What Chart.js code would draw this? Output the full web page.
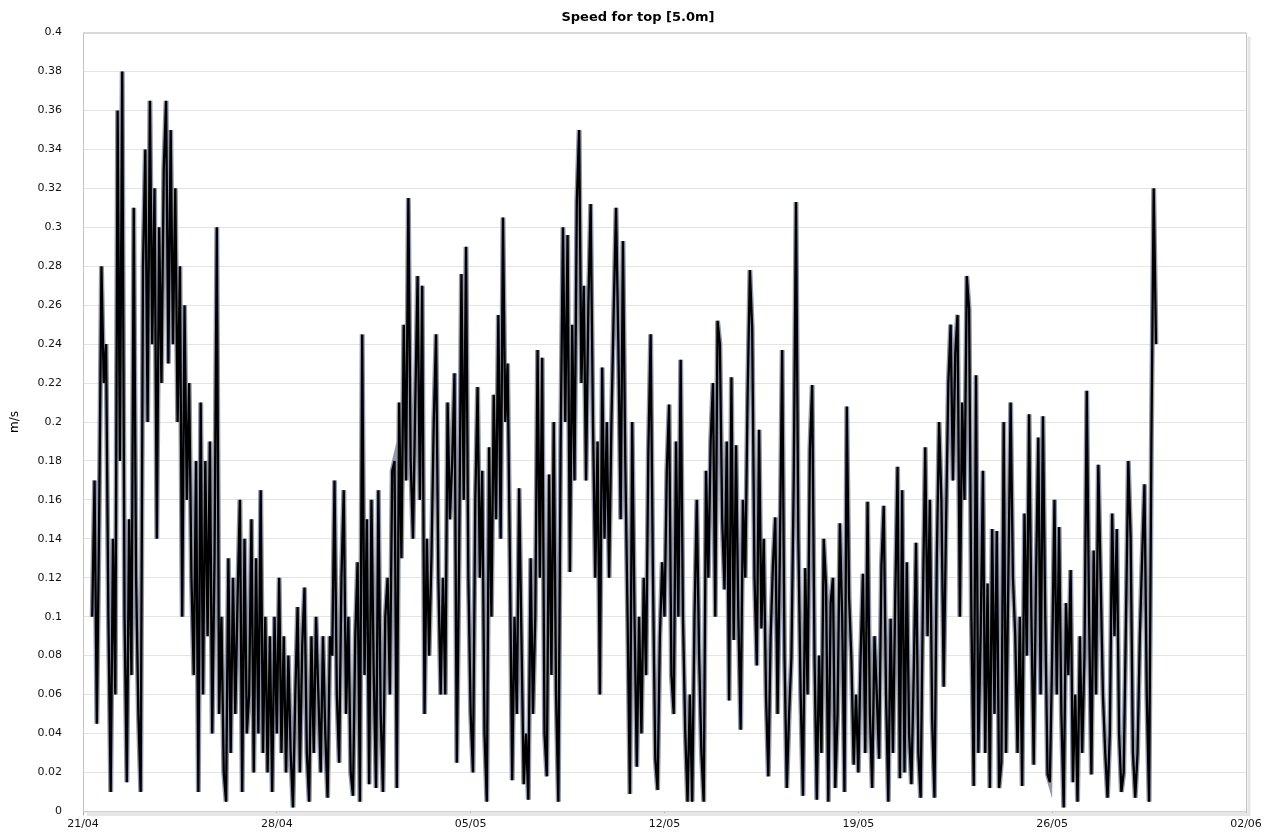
<!DOCTYPE html>
<html>
<head>
<meta charset="utf-8">
<title>Speed for top [5.0m]</title>
<script src="https://cdn.jsdelivr.net/npm/chart.js@4/dist/chart.umd.min.js"></script>
<style>
  html, body { margin: 0; padding: 0; background: #fff; }
</style>
</head>
<body>
<canvas id="speedChart" width="1276" height="839"></canvas>
<script>
  // x axis: days since 21/04, one label per week
  const dateLabels = ['21/04', '28/04', '05/05', '12/05', '19/05', '26/05', '02/06']
  const firstDay = 8 / 24    // first sample 21/04 08:00
  const stepDay = 2 / 24     // one sample every 2 hours

  // y axis
  const yMax = 0.4
  const yStep = 0.02

  // current speed at 5.0 m (m/s), one row per day
  const speed = [
    0.10, 0.17, 0.045, 0.15, 0.28, 0.22, 0.24, 0.10, // 21/04 from 08h
    0.01, 0.14, 0.06, 0.36, 0.18, 0.38, 0.10, 0.015, 0.15, 0.07, 0.31, 0.12,
    0.05, 0.01, 0.28, 0.34, 0.20, 0.365, 0.24, 0.32, 0.14, 0.30, 0.22, 0.33,
    0.365, 0.23, 0.35, 0.24, 0.32, 0.20, 0.28, 0.10, 0.26, 0.16, 0.22, 0.12,
    0.07, 0.18, 0.01, 0.21, 0.06, 0.18, 0.09, 0.19, 0.04, 0.13, 0.30, 0.05, // 25/04
    0.10, 0.02, 0.005, 0.13, 0.03, 0.12, 0.05, 0.11, 0.16, 0.01, 0.14, 0.04,
    0.06, 0.15, 0.02, 0.13, 0.04, 0.165, 0.03, 0.10, 0.02, 0.09, 0.01, 0.10,
    0.04, 0.12, 0.03, 0.09, 0.02, 0.08, 0.03, 0.002, 0.06, 0.105, 0.02, 0.085, // 28/04
    0.115, 0.03, 0.005, 0.09, 0.03, 0.10, 0.06, 0.02, 0.09, 0.04, 0.007, 0.09,
    0.08, 0.17, 0.06, 0.025, 0.12, 0.165, 0.05, 0.10, 0.02, 0.008, 0.09, 0.128,
    0.005, 0.245, 0.07, 0.15, 0.014, 0.16, 0.07, 0.012, 0.165, 0.05, 0.01, 0.10, // 01/05
    0.12, 0.06, 0.175, 0.18, 0.012, 0.21, 0.13, 0.25, 0.17, 0.315, 0.18, 0.14,
    0.21, 0.275, 0.16, 0.27, 0.05, 0.14, 0.08, 0.13, 0.20, 0.245, 0.12, 0.06,
    0.12, 0.06, 0.21, 0.15, 0.18, 0.225, 0.025, 0.13, 0.276, 0.16, 0.29, 0.12,
    0.05, 0.02, 0.16, 0.218, 0.12, 0.175, 0.04, 0.005, 0.187, 0.10, 0.214, 0.15, // 05/05
    0.255, 0.14, 0.305, 0.20, 0.23, 0.13, 0.016, 0.10, 0.05, 0.166, 0.09, 0.014,
    0.04, 0.006, 0.13, 0.05, 0.10, 0.237, 0.12, 0.233, 0.04, 0.018, 0.173, 0.07,
    0.20, 0.06, 0.005, 0.19, 0.30, 0.20, 0.296, 0.123, 0.25, 0.17, 0.313, 0.35, // 08/05
    0.22, 0.27, 0.17, 0.26, 0.312, 0.20, 0.12, 0.19, 0.06, 0.228, 0.14, 0.20,
    0.12, 0.20, 0.258, 0.31, 0.24, 0.15, 0.293, 0.18, 0.10, 0.009, 0.20, 0.10,
    0.023, 0.10, 0.04, 0.12, 0.07, 0.185, 0.245, 0.12, 0.027, 0.011, 0.09, 0.128,
    0.10, 0.175, 0.209, 0.07, 0.05, 0.19, 0.10, 0.232, 0.10, 0.04, 0.005, 0.06, // 12/05
    0.005, 0.10, 0.16, 0.08, 0.03, 0.005, 0.175, 0.12, 0.19, 0.22, 0.10, 0.252,
    0.24, 0.15, 0.114, 0.19, 0.057, 0.223, 0.088, 0.188, 0.10, 0.042, 0.16, 0.12,
    0.213, 0.278, 0.248, 0.12, 0.075, 0.196, 0.094, 0.14, 0.059, 0.018, 0.09, 0.127,
    0.151, 0.05, 0.133, 0.237, 0.08, 0.012, 0.05, 0.079, 0.17, 0.313, 0.14, 0.06, // 16/05
    0.008, 0.125, 0.06, 0.186, 0.219, 0.08, 0.006, 0.08, 0.03, 0.14, 0.116, 0.005,
    0.107, 0.12, 0.012, 0.05, 0.148, 0.10, 0.01, 0.208, 0.11, 0.078, 0.024, 0.06,
    0.02, 0.08, 0.122, 0.03, 0.159, 0.05, 0.012, 0.09, 0.06, 0.027, 0.126, 0.157, // 19/05
    0.06, 0.005, 0.099, 0.03, 0.11, 0.177, 0.017, 0.165, 0.02, 0.128, 0.04, 0.014,
    0.07, 0.138, 0.03, 0.007, 0.11, 0.187, 0.09, 0.16, 0.047, 0.007, 0.13, 0.20,
    0.16, 0.064, 0.147, 0.22, 0.25, 0.17, 0.235, 0.255, 0.10, 0.21, 0.16, 0.275,
    0.258, 0.10, 0.013, 0.224, 0.03, 0.09, 0.175, 0.03, 0.117, 0.012, 0.145, 0.05, // 23/05
    0.144, 0.012, 0.025, 0.20, 0.03, 0.12, 0.21, 0.12, 0.09, 0.03, 0.10, 0.013,
    0.153, 0.08, 0.204, 0.10, 0.024, 0.12, 0.192, 0.06, 0.203, 0.10, 0.019, 0.015,
    0.08, 0.16, 0.06, 0.146, 0.05, 0.002, 0.107, 0.07, 0.124, 0.015, 0.06, 0.005, // 26/05
    0.09, 0.03, 0.08, 0.216, 0.10, 0.019, 0.134, 0.06, 0.178, 0.12, 0.06, 0.03,
    0.007, 0.04, 0.153, 0.09, 0.145, 0.04, 0.01, 0.02, 0.10, 0.18, 0.141, 0.03,
    0.007, 0.03, 0.09, 0.131, 0.168, 0.06, 0.005, 0.19, 0.32, 0.24 // 29/05 to 18h
  ]

  const points = speed.map((v, i) => ({ x: firstDay + i * stepDay, y: v }))

  // light frame with a soft shadow round the plot, like the original
  const plotFrame = {
    id: 'plotFrame',
    afterDraw (chart) {
      const { ctx, chartArea: a } = chart
      ctx.save()
      ctx.strokeStyle = '#e6e6e6'
      ctx.lineWidth = 3
      ctx.beginPath()
      ctx.moveTo(a.right + 3, a.top + 4)
      ctx.lineTo(a.right + 3, a.bottom + 3)
      ctx.lineTo(a.left + 4, a.bottom + 3)
      ctx.stroke()
      ctx.strokeStyle = '#c4c4c4'
      ctx.lineWidth = 1
      ctx.strokeRect(a.left + 0.5, a.top + 0.5, a.right - a.left, a.bottom - a.top)
      ctx.restore()
    }
  }

  Chart.defaults.font.family = '"DejaVu Sans", Verdana, sans-serif'
  Chart.defaults.color = '#111'

  new Chart(document.getElementById('speedChart'), {
    type: 'line',
    data: {
      datasets: [
        {
          label: 'speed',
          data: points,
          borderColor: '#000',
          borderWidth: 2.3,
          borderJoinStyle: 'bevel',
          pointRadius: 0,
          tension: 0
        },
        {
          // grey halo under the black line
          label: 'speed shade',
          data: points,
          borderColor: 'rgba(118, 126, 150, 0.8)',
          borderWidth: 5,
          pointRadius: 0,
          tension: 0
        }
      ]
    },
    options: {
      responsive: false,
      animation: false,
      layout: { padding: 0 },
      plugins: {
        legend: { display: false },
        tooltip: { enabled: false },
        title: {
          display: true,
          text: 'Speed for top [5.0m]',
          color: '#000',
          font: { size: 13, weight: 'bold' },
          padding: { top: 10, bottom: 7 }
        }
      },
      scales: {
        x: {
          type: 'linear',
          min: 0,
          max: (dateLabels.length - 1) * 7,
          ticks: {
            stepSize: 7,
            font: { size: 11 },
            maxRotation: 0,
            padding: 2,
            callback: (v) => dateLabels[Math.round(v / 7)]
          },
          grid: { drawOnChartArea: false, tickLength: 4, color: '#aaa' },
          border: { display: false },
          afterFit: (s) => { s.height = 22 }
        },
        y: {
          min: 0,
          max: yMax,
          ticks: {
            stepSize: yStep,
            font: { size: 11 },
            padding: 21,
            callback: (v) => String(+v.toFixed(2))
          },
          grid: { color: '#e4e4e4', drawTicks: false },
          border: { display: false },
          title: {
            display: true,
            text: 'm/s',
            color: '#000',
            font: { size: 12 },
            padding: { top: 8, bottom: 0 }
          },
          afterFit: (s) => { s.width = 83 }
        },
        // empty axis on the right, only to leave room for the frame shadow
        yRight: {
          position: 'right',
          display: true,
          ticks: { display: false },
          grid: { display: false },
          border: { display: false },
          afterFit: (s) => { s.width = 30 }
        }
      }
    },
    plugins: [plotFrame]
  })
</script>
</body>
</html>
